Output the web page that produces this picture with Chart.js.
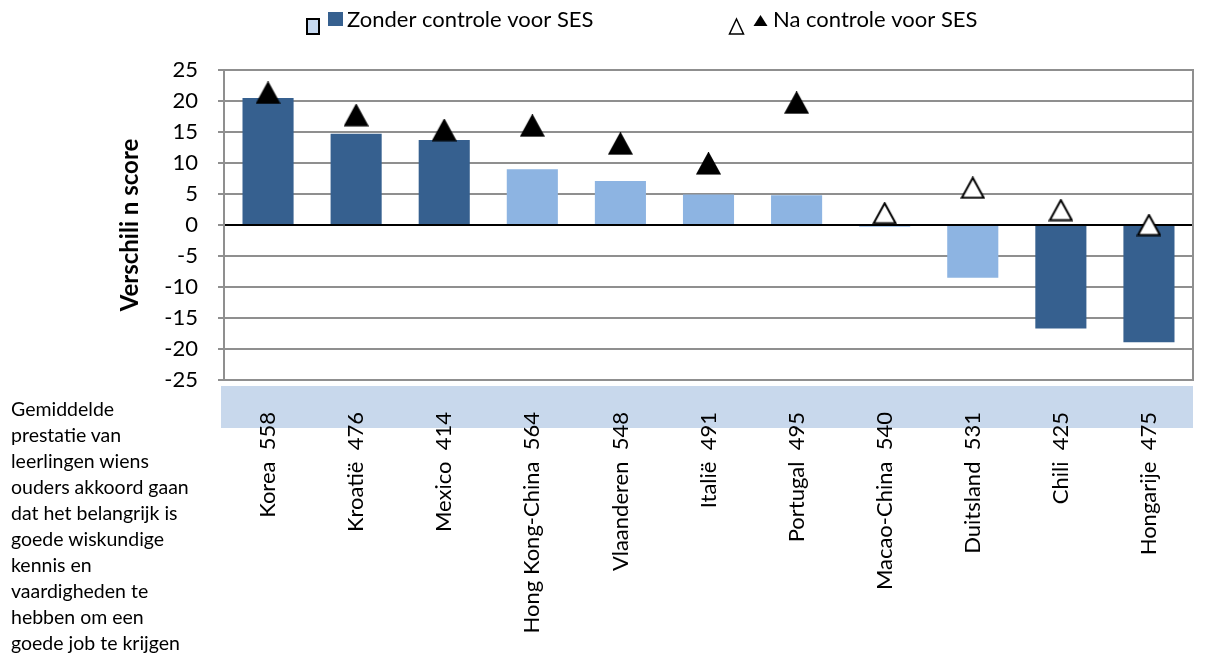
<!DOCTYPE html>
<html lang="nl">
<head>
    <meta charset="UTF-8">
    <title>Verschil in score</title>
    <script src="https://cdn.jsdelivr.net/npm/chart.js"></script>
    <style>
        body { margin: 0; background: #fff; }
        #wrap { position: relative; width: 1206px; height: 656px; }
        #note {
            position: absolute; left: 11px; top: 396px;
            font: 19.5px Lato, sans-serif; line-height: 26px; color: #000;
        }
    </style>
</head>
<body>
<div id="wrap">
    <canvas id="myChart"></canvas>
    <div id="note">Gemiddelde<br>prestatie van<br>leerlingen wiens<br>ouders akkoord gaan<br>dat het belangrijk is<br>goede wiskundige<br>kennis en<br>vaardigheden te<br>hebben om een<br>goede job te krijgen</div>
</div>
<script>
    // landen + gemiddelde score
    const labels = ['Korea  558', 'Kroatië  476', 'Mexico  414', 'Hong Kong-China  564', 'Vlaanderen  548',
        'Italië  491', 'Portugal  495', 'Macao-China  540', 'Duitsland  531', 'Chili  425', 'Hongarije  475'];
    // verschil zonder controle voor SES
    const zonderSES = [20.5, 14.7, 13.7, 9.0, 7.1, 4.9, 4.8, -0.3, -8.5, -16.7, -18.9];
    const zonderSign = [1, 1, 1, 0, 0, 0, 0, 0, 0, 1, 1];
    // verschil na controle voor SES
    const naSES = [21.3, 17.7, 15.3, 16.0, 13.1, 9.9, 19.7, 1.9, 6.0, 2.4, 0.0];
    const naSign = [1, 1, 1, 1, 1, 1, 1, 0, 0, 0, 0];
    const yTicks = [-25, -20, -15, -10, -5, 0, 5, 10, 15, 20, 25];

    const DARK = '#36608f', LIGHT = '#8db4e2', BAND = '#c8d8ec', GRID = '#8f8f8f';
    const FONT = 'Lato, sans-serif';

    // driehoek-marker, gecentreerd op de bounding box (zoals Excel)
    function triangle(fill) {
        const c = document.createElement('canvas');
        c.width = 25; c.height = 23;
        const g = c.getContext('2d');
        g.beginPath();
        g.moveTo(12.5, 1.5); g.lineTo(23.5, 21.5); g.lineTo(1.5, 21.5); g.closePath();
        g.fillStyle = fill; g.fill();
        g.lineWidth = 2; g.strokeStyle = '#000'; g.stroke();
        return c;
    }
    const triFull = triangle('#000');
    const triOpen = triangle('#fff');

    const decor = {
        id: 'decor',
        beforeDraw(chart) {
            const ctx = chart.ctx, a = chart.chartArea;
            ctx.save();
            ctx.fillStyle = BAND;
            ctx.fillRect(a.left - 3, a.bottom + 6, a.right - a.left + 3, 42);
            ctx.restore();
        },
        afterDatasetsDraw(chart) {
            const ctx = chart.ctx, a = chart.chartArea;
            ctx.save();
            ctx.strokeStyle = GRID; ctx.lineWidth = 2;
            ctx.beginPath(); ctx.moveTo(a.right, a.top - 1); ctx.lineTo(a.right, a.bottom + 1); ctx.stroke();
            ctx.restore();
        },
        afterDraw(chart) {
            const ctx = chart.ctx;
            ctx.save();
            // legenda
            ctx.fillStyle = '#c6d9f1'; ctx.strokeStyle = '#000'; ctx.lineWidth = 2;
            ctx.fillRect(307, 19, 12, 15); ctx.strokeRect(307, 19, 12, 15);
            ctx.fillStyle = DARK; ctx.fillRect(328, 12, 15, 14);
            ctx.lineWidth = 1.5;
            ctx.beginPath(); ctx.moveTo(736.5, 19); ctx.lineTo(743.5, 34); ctx.lineTo(729.5, 34); ctx.closePath();
            ctx.stroke();
            ctx.fillStyle = '#000';
            ctx.beginPath(); ctx.moveTo(760.5, 15); ctx.lineTo(767.5, 26); ctx.lineTo(753.5, 26); ctx.closePath();
            ctx.fill();
            ctx.font = '22px ' + FONT;
            ctx.textBaseline = 'alphabetic';
            ctx.fillText('Zonder controle voor SES', 347, 27);
            ctx.fillText('Na controle voor SES', 773, 27);
            ctx.restore();
        }
    };

    const ctx = document.getElementById('myChart').getContext('2d');
    new Chart(ctx, {
        data: {
            labels: labels,
            datasets: [{
                type: 'line',
                label: 'Na controle voor SES',
                data: naSES,
                showLine: false,
                pointStyle: naSign.map(s => s ? triFull : triOpen),
                pointRadius: 12,
                order: 0
            }, {
                type: 'bar',
                label: 'Zonder controle voor SES',
                data: zonderSES,
                backgroundColor: zonderSign.map(s => s ? DARK : LIGHT),
                barPercentage: 0.58,
                categoryPercentage: 1,
                order: 1
            }]
        },
        options: {
            responsive: true,
            maintainAspectRatio: false,
            animation: false,
            layout: { padding: { top: 70, right: 9, left: 0, bottom: 0 } },
            plugins: { legend: { display: false }, tooltip: { enabled: false } },
            scales: {
                x: {
                    grid: { display: false },
                    border: { display: false },
                    ticks: {
                        minRotation: 90, maxRotation: 90, padding: 24, autoSkip: false,
                        color: '#000', font: { family: FONT, size: 22 }
                    },
                    afterFit(s) { s.height = 276; }
                },
                y: {
                    min: -25, max: 25,
                    afterBuildTicks(s) { s.ticks = yTicks.map(v => ({ value: v })); },
                    grid: {
                        color: c => c.tick && c.tick.value === 0 ? '#000' : GRID,
                        lineWidth: 2,
                        tickLength: 6,
                        tickColor: GRID
                    },
                    border: { color: GRID, width: 2 },
                    ticks: { padding: 20, color: '#000', font: { family: FONT, size: 22 } },
                    title: {
                        display: true, text: 'Verschili n score', color: '#000',
                        font: { family: FONT, size: 24, weight: 'bold' },
                        padding: { top: 116, bottom: 0 }
                    },
                    afterFit(s) { s.width = 224; }
                }
            }
        },
        plugins: [decor]
    });
</script>
</body>
</html>
